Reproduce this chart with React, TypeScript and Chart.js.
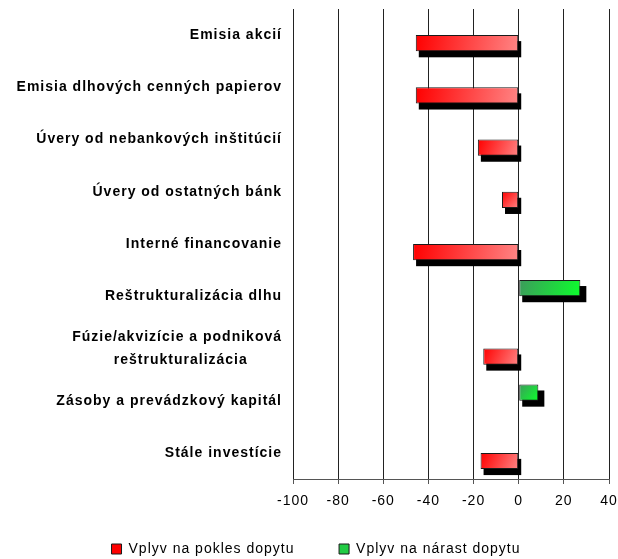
import React, { useEffect, useRef } from 'react';
import { Chart, registerables } from 'chart.js';

Chart.register(...registerables);

const NBSP = '\u00A0';

const categories: (string | string[])[] = [
  'Emisia akcií',
  'Emisia dlhových cenných papierov',
  'Úvery od nebankových inštitúcií',
  'Úvery od ostatných bánk',
  'Interné financovanie',
  'Reštrukturalizácia dlhu',
  ['Fúzie/akvizície a podniková', 'reštrukturalizácia' + NBSP.repeat(7)],
  'Zásoby a prevádzkový kapitál',
  'Stále investície',
];

const declineLabel = 'Vplyv na pokles dopytu';
const increaseLabel = 'Vplyv na nárast dopytu';

const declineValues: (number | null)[] = [-45.6, -45.6, -18.1, -7.4, -46.8, null, -15.7, null, -16.9];
const increaseValues: (number | null)[] = [null, null, null, null, null, 27.3, null, 8.7, null];

const xMin = -100;
const xMax = 40;
const xStep = 20;

const CAT_PCT = 0.62;
const FONT = "'Liberation Sans', Arial, sans-serif";

function barGradient(c: any, from: string, to: string, solid: string) {
  if (!c || c.type !== 'data') return solid;
  const chart = c.chart;
  const xs = chart.scales?.x;
  const ys = chart.scales?.y;
  const v = c.raw;
  if (v == null || !xs || !ys || !chart.chartArea) return solid;
  const x0 = xs.getPixelForValue(0);
  const x1 = xs.getPixelForValue(v);
  const yc = ys.getPixelForValue(c.dataIndex);
  const slot = (ys.height / categories.length) * CAT_PCT / 2;
  const top = c.datasetIndex === 0 ? yc - slot : yc;
  const g = chart.ctx.createLinearGradient(Math.min(x0, x1), top, Math.max(x0, x1), top + slot);
  g.addColorStop(0, from);
  g.addColorStop(1, to);
  return g;
}

const spacingPlugin = {
  id: 'letterSpacing',
  beforeUpdate(chart: any) { chart.ctx.letterSpacing = '1px'; },
  beforeDraw(chart: any) { chart.ctx.letterSpacing = '1px'; },
  afterLayout(chart: any) {
    const lg = chart.legend;
    if (lg) {
      lg.top += 7;
      lg.bottom += 7;
      lg.left += 11;
      lg.right += 11;
    }
  },
};

const shadowPlugin = {
  id: 'barShadow',
  beforeDatasetsDraw(chart: any) {
    const ctx = chart.ctx;
    ctx.save();
    ctx.fillStyle = '#000';
    chart.data.datasets.forEach((ds: any, di: number) => {
      const meta = chart.getDatasetMeta(di);
      meta.data.forEach((el: any, i: number) => {
        const v = ds.data[i];
        if (v == null) return;
        const { x, y, base, height } = el.getProps(['x', 'y', 'base', 'height'], true);
        const left = Math.min(x, base);
        const right = Math.max(x, base);
        const top = y - height / 2;
        const extra = v > 0 ? 3 : 0;
        ctx.fillRect(left + 3, top + 6, right - left + extra, height);
      });
    });
    ctx.restore();
  },
};

export default function App() {
  const ref = useRef<HTMLCanvasElement>(null);

  useEffect(() => {
    if (!ref.current) return;
    const chart = new Chart(ref.current, {
      type: 'bar',
      data: {
        labels: categories,
        datasets: [
          {
            label: increaseLabel,
            data: increaseValues,
            backgroundColor: (c: any) => barGradient(c, '#3d9a5c', '#0cff2c', '#22cc44'),
            borderColor: '#1a1a1a',
            borderWidth: 1,
            borderSkipped: false,
            categoryPercentage: CAT_PCT,
            barPercentage: 1,
          },
          {
            label: declineLabel + NBSP.repeat(4),
            data: declineValues,
            backgroundColor: (c: any) => barGradient(c, '#ff0000', '#ff8585', '#ff4444'),
            borderColor: '#1a1a1a',
            borderWidth: 1,
            borderSkipped: false,
            categoryPercentage: CAT_PCT,
            barPercentage: 1,
          },
        ],
      },
      options: {
        indexAxis: 'y',
        animation: false,
        responsive: true,
        maintainAspectRatio: false,
        layout: { padding: { left: 0, right: 8, top: 9, bottom: 0 } },
        font: { family: FONT, size: 14 },
        scales: {
          x: {
            min: xMin,
            max: xMax,
            ticks: {
              stepSize: xStep,
              color: '#000',
              padding: 9,
              font: { family: FONT, size: 14 },
            },
            grid: { color: '#222', lineWidth: 1, tickLength: 5, tickColor: '#555' },
            border: { display: true, color: '#555', width: 1 },
            afterFit: (s: any) => { s.height = 31; s.paddingLeft = 0; s.paddingRight = 9; },
          },
          y: {
            ticks: {
              color: '#000',
              padding: 11,
              autoSkip: false,
              font: { family: FONT, size: 14, weight: 'bold', lineHeight: 1.6 },
            },
            grid: { display: false, drawTicks: false, tickLength: 0 },
            border: { display: false },
            afterFit: (s: any) => { s.width = 293; s.paddingTop = 0; s.paddingBottom = 0; },
          },
        },
        plugins: {
          legend: {
            position: 'bottom',
            labels: {
              boxWidth: 10,
              boxHeight: 10,
              padding: 25,
              color: '#000',
              font: { family: FONT, size: 14 },
              sort: (a: any, b: any) => b.datasetIndex - a.datasetIndex,
            },
          },
          tooltip: { enabled: false },
        },
      },
      plugins: [spacingPlugin, shadowPlugin],
    } as any);
    return () => chart.destroy();
  }, []);

  return (
    <div style={{ position: 'fixed', left: 0, top: 0, width: 618, height: 559, background: '#fff' }}>
      <canvas ref={ref} />
    </div>
  );
}
